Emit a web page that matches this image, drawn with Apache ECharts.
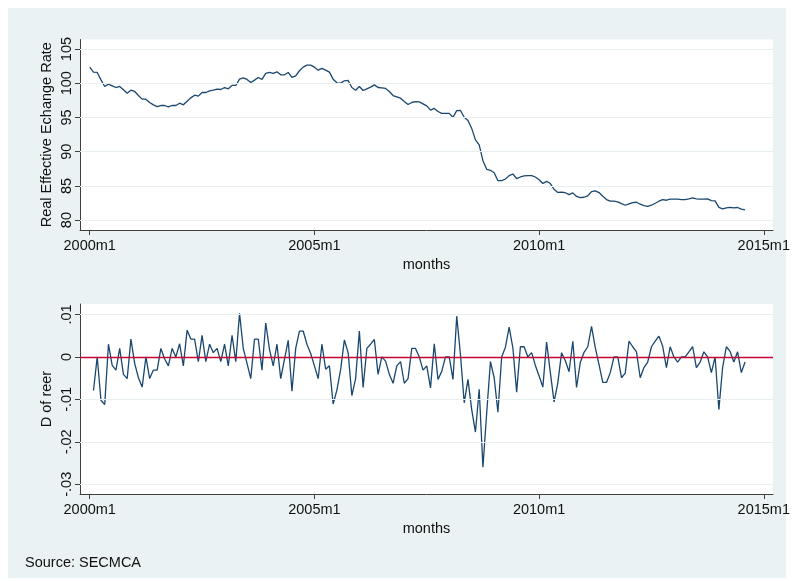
<!DOCTYPE html>
<html lang="en">

<head>
  <meta charset="UTF-8">
  <title>REER</title>
  <style>
    html, body { margin: 0; padding: 0; background: #fff; }
  </style>
</head>

<body>
  <div class="main" style="width: 793px;height:581px;"></div>

  <script src="https://cdn.jsdelivr.net/npm/echarts@6/dist/echarts.min.js"></script>
  <script>
    // months counted from 2000m1 = 0
    const xTicks = [0, 60, 120, 180]
    const xTickLabels = ['2000m1', '2005m1', '2010m1', '2015m1']
    const topTicks = [80, 85, 90, 95, 100, 105]
    const bottomTicks = [-0.03, -0.02, -0.01, 0, 0.01]
    const bottomTickLabels = ['-.03', '-.02', '-.01', '0', '.01']

    // real effective exchange rate, 2000m1 .. 2014m8
    const reer = [
      102.36, 101.63, 101.58, 100.5, 99.53, 99.87, 99.63, 99.38, 99.53, 99.04,
      98.55, 98.99, 98.8, 98.21, 97.68, 97.68, 97.19, 96.85, 96.6, 96.75,
      96.75, 96.55, 96.75, 96.75, 97.09, 96.85, 97.38, 97.87, 98.26, 98.12,
      98.65, 98.65, 98.9, 98.99, 99.14, 99.09, 99.38, 99.19, 99.68, 99.68,
      100.6, 100.8, 100.56, 100.12, 100.46, 100.85, 100.56, 101.44, 101.58, 101.44,
      101.68, 101.24, 101.24, 101.58, 100.85, 101.09, 101.83, 102.36, 102.66, 102.66,
      102.36, 101.92, 102.17, 101.92, 101.63, 100.6, 100.07, 100.02, 100.36, 100.41,
      99.38, 98.99, 99.53, 98.94, 99.19, 99.43, 99.77, 99.38, 99.34, 99.24,
      98.8, 98.21, 98.02, 97.82, 97.33, 96.89, 97.19, 97.33, 97.28, 96.99,
      96.7, 96.08, 96.33, 95.87, 95.6, 95.6, 95.6, 95.04, 96.0, 96.02,
      95.04, 94.55, 93.4, 91.72, 90.99, 88.69, 87.42, 87.28, 86.93, 85.76,
      85.76, 86.01, 86.5, 86.74, 86.05, 86.3, 86.46, 86.51, 86.51, 86.3,
      85.9, 85.34, 85.66, 85.34, 84.5, 84.05, 84.07, 84.0, 83.73, 83.98,
      83.45, 83.29, 83.34, 83.55, 84.17, 84.27, 84.02, 83.49, 83.0, 82.76,
      82.76, 82.66, 82.41, 82.17, 82.37, 82.56, 82.61, 82.32, 82.12, 82.02,
      82.17, 82.46, 82.76, 83.0, 82.9, 83.05, 83.05, 83.05, 83.0, 83.0,
      83.1, 83.24, 83.1, 83.05, 83.05, 83.1, 82.85, 82.8, 81.85, 81.65,
      81.78, 81.85, 81.78, 81.84, 81.6, 81.5
    ]

    // D of reer, 2000m2 .. 2014m8
    const dReer = [
      -0.0079, 0.0, -0.0102, -0.0112, 0.003, -0.002, -0.0031, 0.002, -0.0041, -0.0051,
      0.0042, -0.0015, -0.0049, -0.0071, 0.0, -0.0051, -0.0031, -0.0031, 0.002, -0.0005,
      -0.0021, 0.002, 0.0, 0.0031, -0.0021, 0.0063, 0.0042, 0.0042, -0.0011, 0.0051,
      -0.0011, 0.003, 0.001, 0.002, -0.0011, 0.003, -0.0021, 0.0051, -0.0011, 0.0103,
      0.002, -0.0015, -0.0051, 0.0042, 0.0042, -0.0031, 0.008, 0.0018, -0.0021, 0.003,
      -0.0051, -0.0006, 0.0039, -0.0081, 0.002, 0.0061, 0.0061, 0.003, 0.0008, -0.0021,
      -0.0051, 0.003, -0.0029, -0.0021, -0.0111, -0.0078, -0.003, 0.004, 0.001, -0.0091,
      -0.0051, 0.0061, -0.0072, 0.002, 0.003, 0.0041, -0.0041, 0.0, -0.001, -0.0041,
      -0.0062, -0.0021, -0.0011, -0.0062, -0.0051, 0.002, 0.002, 0.0, -0.0031, -0.0021,
      -0.0073, 0.0031, -0.0053, -0.0034, 0.0, 0.0, -0.0053, 0.0096, 0.0005, -0.0108,
      -0.0053, -0.0124, -0.0177, -0.0076, -0.026, -0.0132, -0.0011, -0.0049, -0.013, 0.0,
      0.0023, 0.007, 0.0021, -0.0083, 0.0024, 0.0024, 0.0, 0.001, -0.002, -0.0045,
      -0.0071, 0.0035, -0.0037, -0.0106, -0.0061, 0.001, -0.0009, -0.0035, 0.0037, -0.0072,
      -0.0013, 0.0011, 0.0024, 0.0072, 0.0022, -0.0018, -0.006, -0.006, -0.0037, 0.0,
      0.0, -0.0049, -0.0038, 0.0037, 0.0024, 0.0012, -0.0049, -0.0025, -0.0012, 0.0024,
      0.0037, 0.0049, 0.0025, -0.0025, 0.0024, 0.0, -0.0012, 0.0, 0.0, 0.0012,
      0.0024, -0.0025, -0.0012, 0.0012, 0.0, -0.0037, 0.0, -0.0124, -0.0025, 0.0024,
      0.0013, -0.0012, 0.0012, -0.0037, -0.0012
    ]

    const font = '"Liberation Sans", Arial, Helvetica, sans-serif'
    const navy = '#1a476f'
    const gridColor = '#e8eff1'
    const axisColor = '#404040'
    const textColor = '#111'

    const gridLines = ticks => ({
      silent: true,
      symbol: 'none',
      label: { show: false },
      lineStyle: { color: gridColor, type: 'solid', width: 1.2 },
      data: ticks.map(t => ({ yAxis: t }))
    })

    const xAxisFor = gridIndex => ({
      type: 'value',
      gridIndex: gridIndex,
      min: -2.6,
      max: 182.45,
      name: 'months',
      nameLocation: 'middle',
      nameGap: 27,
      nameMoveOverlap: false,
      nameTextStyle: { color: textColor, fontSize: 14.5, fontFamily: font },
      axisLine: { onZero: false, lineStyle: { color: axisColor, width: 1 } },
      axisTick: { customValues: xTicks, length: 5, lineStyle: { color: axisColor } },
      axisLabel: {
        customValues: xTicks,
        margin: 8,
        color: textColor,
        fontSize: 14.5,
        fontFamily: font,
        formatter: v => xTickLabels[xTicks.indexOf(v)]
      },
      splitLine: { show: false }
    })

    const yAxisFor = (gridIndex, min, max, ticks, labels, name) => ({
      type: 'value',
      gridIndex: gridIndex,
      min: min,
      max: max,
      name: name,
      nameLocation: 'middle',
      nameGap: 26,
      nameMoveOverlap: false,
      nameRotate: 90,
      nameTextStyle: { color: textColor, fontSize: 14.5, fontFamily: font },
      axisLine: { show: true, onZero: false, lineStyle: { color: axisColor, width: 1 } },
      axisTick: { show: true, customValues: ticks, length: 5, lineStyle: { color: axisColor } },
      axisLabel: {
        customValues: ticks,
        rotate: 90,
        margin: 6,
        color: textColor,
        fontSize: 14.5,
        fontFamily: font,
        formatter: v => {
          const i = ticks.findIndex(t => Math.abs(t - v) < 1e-9)
          return labels ? labels[i] : String(ticks[i])
        }
      },
      splitLine: { show: false }
    })

    var myChart = echarts.init(document.querySelector('.main'), null, { renderer: 'canvas' });

    var option = {
      backgroundColor: '#fff',
      animation: false,
      graphic: [
        {
          type: 'rect',
          z: -10,
          silent: true,
          shape: { x: 8, y: 8, width: 778, height: 570 },
          style: { fill: '#eaf2f3' }
        },
        {
          type: 'text',
          left: 25,
          top: 555,
          style: { text: 'Source: SECMCA', fill: textColor, fontSize: 14.5, fontFamily: font }
        }
      ],
      grid: [
        { left: 80, top: 39.5, width: 693, height: 190.5, show: true, backgroundColor: '#fff', borderWidth: 0 },
        { left: 80, top: 304, width: 693, height: 190, show: true, backgroundColor: '#fff', borderWidth: 0 }
      ],
      xAxis: [xAxisFor(0), xAxisFor(1)],
      yAxis: [
        yAxisFor(0, 78.55, 106.4, topTicks, null, 'Real Effective Echange Rate'),
        yAxisFor(1, -0.03229, 0.01247, bottomTicks, bottomTickLabels, 'D of reer')
      ],
      series: [
        {
          name: 'reer',
          type: 'line',
          xAxisIndex: 0,
          yAxisIndex: 0,
          data: reer.map((v, i) => [i, v]),
          showSymbol: false,
          lineStyle: { color: navy, width: 1.3 },
          markLine: gridLines(topTicks)
        },
        {
          name: 'grid lines',
          type: 'line',
          xAxisIndex: 1,
          yAxisIndex: 1,
          data: [],
          markLine: gridLines(bottomTicks.filter(t => t !== 0))
        },
        {
          name: 'zero',
          type: 'line',
          xAxisIndex: 1,
          yAxisIndex: 1,
          data: [],
          z: 3,
          markLine: {
            silent: true,
            symbol: 'none',
            label: { show: false },
            lineStyle: { color: '#c10534', type: 'solid', width: 1.3 },
            data: [{ yAxis: 0 }]
          }
        },
        {
          name: 'D of reer',
          type: 'line',
          xAxisIndex: 1,
          yAxisIndex: 1,
          z: 4,
          data: dReer.map((v, i) => [i + 1, v]),
          showSymbol: false,
          lineStyle: { color: navy, width: 1.3 }
        }
      ]
    };

    myChart.setOption(option);
  </script>
</body>

</html>
